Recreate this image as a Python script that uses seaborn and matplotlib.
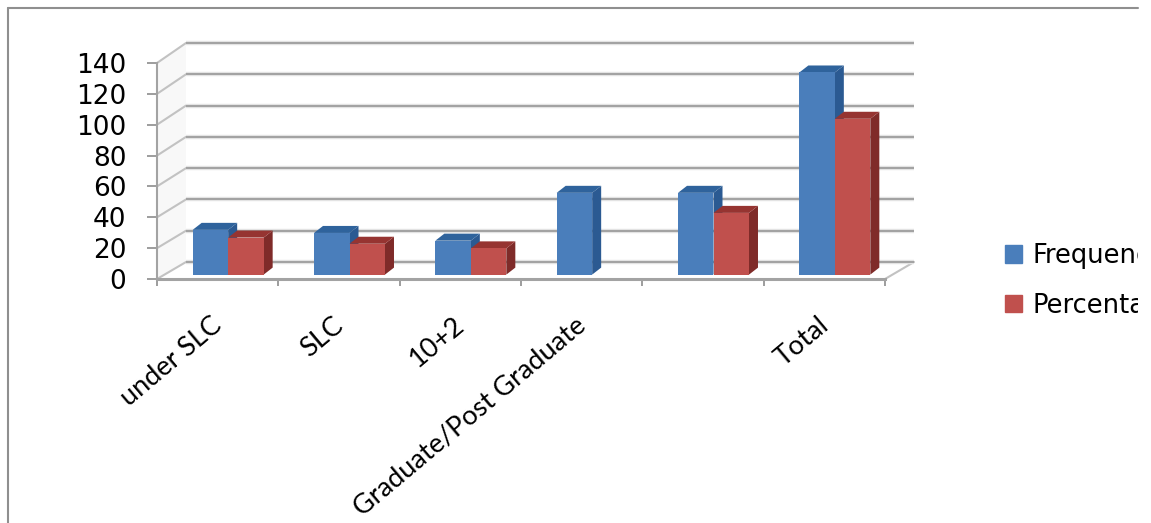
import matplotlib
matplotlib.use("Agg")
import matplotlib.pyplot as plt
import numpy as np
import pandas as pd
import seaborn as sns
from matplotlib.lines import Line2D
from matplotlib.patches import ConnectionPatch, Patch, Polygon
from matplotlib.transforms import Bbox

# Survey table: education level against frequency and percentage
levels = ["under SLC", "SLC", "10+2", "Graduate/Post Graduate", " ", "Total"]
frequency = [29, 27, 22, 53, 53, 131]
percentage = [24, 20, 17, np.nan, 40, 101]
y_ticks = [0, 20, 40, 60, 80, 100, 120, 140]
series_names = ["Frequency", "Percentage"]
palette = {"Frequency": "#4a7ebb", "Percentage": "#c0504d"}
side_colors = {"Frequency": "#2b5a92", "Percentage": "#7f2b29"}
top_colors = {"Frequency": "#2f639c", "Percentage": "#963431"}

W, H = 1151, 523
GRID = "#a3a3a3"
HALO = "#e6e6e6"

sns.set_theme(style="white")
plt.rcParams["font.family"] = ["DejaVu Sans"]

fig = plt.figure(figsize=(W / 100, H / 100), dpi=100, facecolor="white")


def axes_at(left, right, top, bottom, **kw):
    """Create axes from pixel edges measured from the top left corner."""
    return fig.add_axes([left / W, 1 - bottom / H, (right - left) / W, (bottom - top) / H], **kw)


# Rear wall, front axis frame and the bar layer are stacked to fake the 3-D view
back = axes_at(186, 914, 43, 262, zorder=1)
front = axes_at(157, 885, 63, 279, zorder=2)
bars = axes_at(167.5, 895.5, 58.6, 274.6, zorder=3)

for ax in (back, front, bars):
    ax.set_xlim(-0.5, 5.5)
    ax.set_ylim(0, 140)
    ax.patch.set_alpha(0)

# Faintly tinted side wall between the front axis and the rear wall
fig.add_artist(Polygon([(157 / W, 1 - 63 / H), (186 / W, 1 - 43 / H),
                        (186 / W, 1 - 262 / H), (157 / W, 1 - 279 / H)],
                       closed=True, fc="#f8f8f8", ec="none", transform=fig.transFigure, zorder=0))

back.axis("off")
for v in y_ticks:
    back.hlines(v, -0.5, 5.5, color=HALO, lw=3.2, clip_on=False, zorder=1)
    back.hlines(v, -0.5, 5.5, color=GRID, lw=1.5, clip_on=False, zorder=2)
    wall = ConnectionPatch((-0.5, v), (-0.5, v), "data", "data", axesA=front, axesB=back,
                           color="#c2c2c2", lw=1.5, zorder=1)
    fig.add_artist(wall)

# Right-hand edge of the floor
fig.add_artist(ConnectionPatch((5.5, 0), (5.5, 0), "data", "data", axesA=front, axesB=back,
                               color="#c2c2c2", lw=1.5))

# Front axis with its labels
sns.despine(ax=front, top=True, right=True)
for side in ("left", "bottom"):
    front.spines[side].set_color(GRID)
front.spines["left"].set_linewidth(1.5)
front.spines["bottom"].set_linewidth(2.2)
front.set_yticks(y_ticks)
front.set_yticklabels([str(v) for v in y_ticks], fontsize=19, color="black")
front.tick_params(axis="y", left=True, length=7.5, width=1.2, color="#8c8c8c", pad=14.5)
front.set_xticks(np.arange(-0.5, 6.5, 1))
front.tick_params(axis="x", bottom=True, length=5, width=1.2, color="#8c8c8c", labelbottom=False)
for i, name in enumerate(levels):
    front.annotate(name, xy=(i, 0), xycoords=("data", "axes fraction"),
                   xytext=(-5, -24), textcoords="offset points",
                   rotation=40, ha="right", va="top", rotation_mode="anchor",
                   fontsize=19.5, family="Lato", color="black")

# Bars
table = pd.DataFrame({
    "level": levels * 2,
    "series": [series_names[0]] * len(levels) + [series_names[1]] * len(levels),
    "value": frequency + percentage,
})
sns.barplot(data=table, x="level", y="value", hue="series", hue_order=series_names,
            palette=palette, order=levels, width=0.585, gap=0, dodge=True,
            saturation=1, legend=False, ax=bars, zorder=3, linewidth=0)
bars.set_xlim(-0.5, 5.5)
bars.set_ylim(0, 140)
bars.axis("off")

# Extrude each bar with a side and a top face
dx = 9 / (728 / 6)
dy = 7 / (216 / 140)
for level_order, (container, name) in enumerate(zip(bars.containers, series_names)):
    for rect in container:
        h = rect.get_height()
        if not h > 0:
            continue
        x0, x1 = rect.get_x(), rect.get_x() + rect.get_width()
        rect.set_zorder(3 + 2 * level_order)
        side = Polygon([(x1, 0), (x1 + dx, dy), (x1 + dx, h + dy), (x1, h)],
                       fc=side_colors[name], ec="none", zorder=2 + 2 * level_order, clip_on=False)
        top = Polygon([(x0, h), (x0 + dx, h + dy), (x1 + dx, h + dy), (x1, h)],
                      fc=top_colors[name], ec="none", zorder=2 + 2 * level_order, clip_on=False)
        bars.add_patch(side)
        bars.add_patch(top)

# Outer frame of the chart area, open on the right and bottom
frame = dict(color="#8f8f8f", lw=1.5, transform=fig.transFigure)
fig.add_artist(Line2D([8 / W, 8 / W], [1 - 8 / H, 0], **frame))
fig.add_artist(Line2D([8 / W, 1138 / W], [1 - 8 / H, 1 - 8 / H], **frame))

# Legend runs past the frame's right end and is cut off there
handles = [Patch(color=palette[n], label=n) for n in series_names]
legend = fig.legend(handles=handles, loc="upper left", bbox_to_anchor=(1005 / W, 1 - 243 / H),
                    frameon=False, fontsize=18.5, labelcolor="black", handlelength=0.66,
                    handleheight=0.66, handletextpad=0.42, labelspacing=0.92,
                    borderpad=0, borderaxespad=0)
for text in legend.get_texts():
    text.set_clip_box(Bbox([[0, 0], [1138, H]]))
    text.set_clip_on(True)

fig.savefig("out.png", dpi=100)
